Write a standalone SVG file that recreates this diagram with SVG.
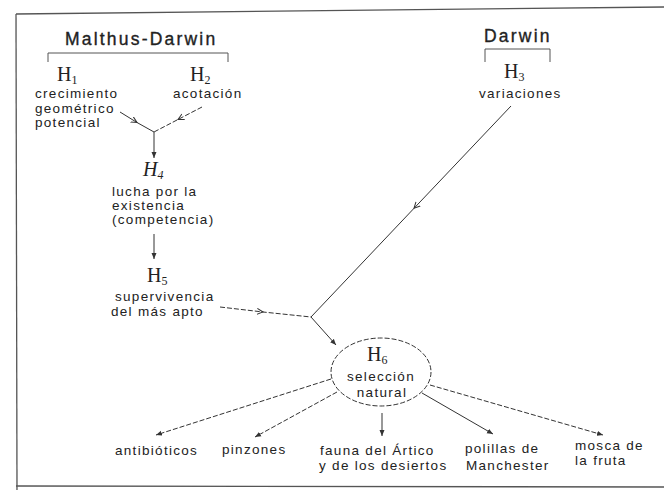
<svg xmlns="http://www.w3.org/2000/svg" width="664" height="492" viewBox="0 0 664 492">
<style>
  .t { font-family: "Liberation Sans", Arial, sans-serif; font-size: 13.5px; letter-spacing: 1.3px; fill: #222; }
  .hd { font-family: "Liberation Sans", Arial, sans-serif; font-size: 17.5px; letter-spacing: 2.2px; fill: #222; stroke: #222; stroke-width: 0.35px; }
  .h { font-family: "Liberation Serif", "Times New Roman", serif; font-size: 20px; fill: #222; }
  .sub { font-size: 12px; }
  .ln { fill: none; stroke: #333; stroke-width: 1; }
  .dash { stroke-dasharray: 5 2; }
  .frame { fill: none; stroke: #555; stroke-width: 1.3; }
  .br { fill: none; stroke: #555; stroke-width: 1; }
</style>
<defs>
  <marker id="chev" viewBox="0 0 8 8" refX="6" refY="4" markerWidth="8" markerHeight="8" orient="auto" markerUnits="userSpaceOnUse">
    <path d="M0,1 L6,4 L0,7" fill="none" stroke="#333" stroke-width="1" stroke-dasharray="none"/>
  </marker>
  <marker id="arr" viewBox="0 0 6 6" refX="6" refY="3" markerWidth="6" markerHeight="6" orient="auto" markerUnits="userSpaceOnUse">
    <path d="M0,0.5 L6,3 L0,5.5 Z" fill="#333"/>
  </marker>
</defs>
<rect width="664" height="492" fill="#fff"/>
<g id="frame">
  <path class="frame" d="M16,14 L664,7"/>
  <path class="frame" d="M16,14 L17,490"/>
  <path class="frame" d="M16,486 L664,487"/>
</g>
<g id="malthus-darwin">
  <text class="hd" x="65" y="45">Malthus-Darwin</text>
  <path class="br" d="M48,62 V53 H228 V62"/>
</g>
<g id="darwin">
  <text class="hd" x="484" y="42">Darwin</text>
  <path class="br" d="M485,62 V49 H550 V62"/>
</g>
<g id="h1">
  <text class="h" x="57" y="81">H<tspan class="sub" dy="3">1</tspan></text>
  <text class="t" x="35" y="98">crecimiento</text>
  <text class="t" x="35" y="112.5">geométrico</text>
  <text class="t" x="35" y="127">potencial</text>
</g>
<g id="h2">
  <text class="h" x="190" y="81">H<tspan class="sub" dy="3">2</tspan></text>
  <text class="t" x="173" y="98">acotación</text>
</g>
<g id="h3">
  <text class="h" x="504" y="78">H<tspan class="sub" dy="3">3</tspan></text>
  <text class="t" x="479" y="98">variaciones</text>
</g>
<g id="h4">
  <text class="h" x="143" y="176" font-style="italic">H<tspan class="sub" dy="3">4</tspan></text>
  <text class="t" x="112" y="196">lucha por la</text>
  <text class="t" x="112" y="210">existencia</text>
  <text class="t" x="112" y="224">(competencia)</text>
</g>
<g id="h5">
  <text class="h" x="147" y="282">H<tspan class="sub" dy="3">5</tspan></text>
  <text class="t" x="115" y="301">supervivencia</text>
  <text class="t" x="111" y="316">del más apto</text>
</g>
<g id="h6">
  <ellipse class="ln dash" cx="381" cy="372" rx="50" ry="34"/>
  <text class="h" x="367" y="361">H<tspan class="sub" dy="3">6</tspan></text>
  <text class="t" x="381" y="381" text-anchor="middle">selección</text>
  <text class="t" x="382" y="397" text-anchor="middle">natural</text>
</g>
<g id="antibioticos"><text class="t" x="115" y="455">antibióticos</text></g>
<g id="pinzones"><text class="t" x="222" y="454">pinzones</text></g>
<g id="fauna">
  <text class="t" x="320" y="455">fauna del Ártico</text>
  <text class="t" x="319" y="470">y de los desiertos</text>
</g>
<g id="polillas">
  <text class="t" x="465" y="453">polillas de</text>
  <text class="t" x="466" y="470">Manchester</text>
</g>
<g id="mosca">
  <text class="t" x="575" y="450">mosca de</text>
  <text class="t" x="575" y="465">la fruta</text>
</g>
<g id="connectors">
  <polyline class="ln" points="120,112 137,122.5 154,132" marker-mid="url(#chev)"/>
  <polyline class="ln dash" points="202,107 178,119.5 154,132" marker-mid="url(#chev)"/>
  <line class="ln" x1="154" y1="132" x2="154" y2="158" marker-end="url(#arr)"/>
  <line class="ln" x1="154" y1="234" x2="154" y2="259" marker-end="url(#arr)"/>
  <polyline class="ln dash" points="220,307 263,312 311,317" marker-mid="url(#chev)"/>
  <polyline class="ln" points="511,106 414,208.3 311,317" marker-mid="url(#chev)"/>
  <line class="ln" x1="311" y1="317" x2="336" y2="345" marker-end="url(#arr)"/>
  <line class="ln dash" x1="331" y1="379" x2="156" y2="435" marker-end="url(#arr)"/>
  <line class="ln dash" x1="337" y1="392" x2="255" y2="437" marker-end="url(#arr)"/>
  <line class="ln" x1="382" y1="413" x2="382" y2="436" marker-end="url(#arr)"/>
  <line class="ln" x1="422" y1="393" x2="493" y2="434" marker-end="url(#arr)"/>
  <line class="ln dash" x1="430" y1="385" x2="603" y2="435" marker-end="url(#arr)"/>
</g>
</svg>
